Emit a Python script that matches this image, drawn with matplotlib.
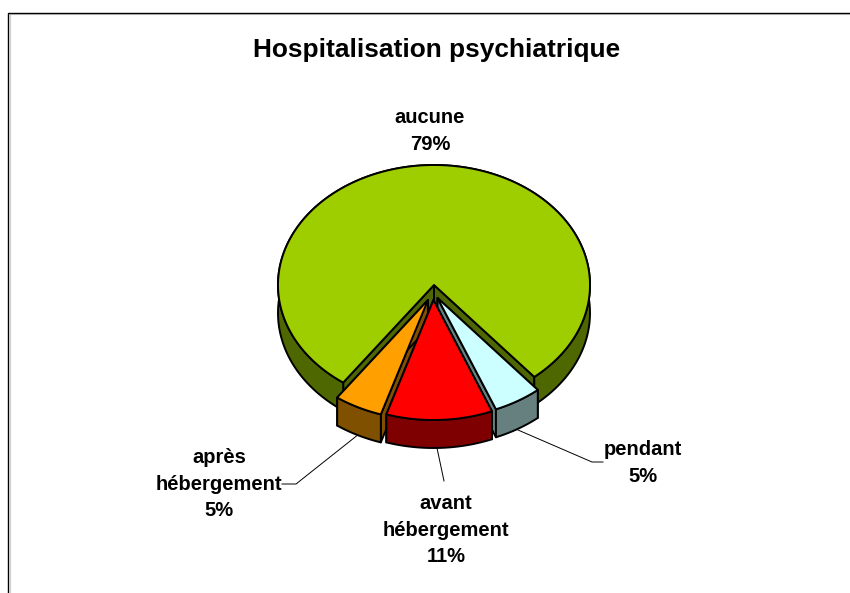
#!/usr/bin/env python3
import numpy as np
import matplotlib

matplotlib.use("Agg")
import matplotlib.pyplot as plt

title = "Hospitalisation psychiatrique"
categories = ["pendant", "avant\nhébergement", "après\nhébergement", "aucune"]
values = [5, 11, 5, 79]

top_colors = ["#CCFFFF", "#FF0000", "#FF9F00", "#9ECE00"]
side_colors = ["#668080", "#7F0000", "#7F5000", "#4F6700"]

# pie geometry in image pixels, angle is measured from straight down towards the right
RX, RY, DEPTH = 156, 120, 28
START = 40.0
centers = [(437.5, 298), (433.5, 300), (428, 300), (434, 285)]
draw_order = [3, 2, 0, 1]
LW = 1.4


def point(center, deg):
    a = np.radians(deg)
    return center[0] + RX * np.sin(a), center[1] + RY * np.cos(a)


fig = plt.figure(figsize=(8.5, 5.93), dpi=100)
ax = fig.add_axes([0, 0, 1, 1])
ax.set_xlim(0, 850)
ax.set_ylim(593, 0)
ax.axis("off")

plt.rcParams["font.family"] = ["Liberation Sans", "DejaVu Sans"]

# chart frame
ax.plot([9.8, 9.8, 850], [593, 13.8, 13.8], color="#D0D0D0", lw=0.8, zorder=0)
ax.plot([8.5, 8.5, 850], [593, 12.5, 12.5], color="black", lw=1.0, zorder=1)

ends = START - np.cumsum(np.array(values) / sum(values) * 360.0)
starts = np.concatenate([[START], ends[:-1]])

z = 2
for i in draw_order:
    cx, cy = centers[i]
    angles = np.linspace(starts[i], ends[i], max(int(values[i] * 4), 12))
    xs, ys = point((cx, cy), angles)
    edge = dict(edgecolor="black", linewidth=LW, joinstyle="round")

    # cut faces
    for deg in (starts[i], ends[i]):
        x1, y1 = point((cx, cy), deg)
        ax.fill([cx, x1, x1, cx], [cy, y1, y1 + DEPTH, cy + DEPTH],
                facecolor=side_colors[i], zorder=z, **edge)
    # outer rim
    ax.fill(np.concatenate([xs, xs[::-1]]), np.concatenate([ys, ys[::-1] + DEPTH]),
            facecolor=side_colors[i], zorder=z + 1, **edge)
    # top face
    ax.fill(np.concatenate([[cx], xs]), np.concatenate([[cy], ys]),
            facecolor=top_colors[i], zorder=z + 2, **edge)
    z += 3

# leader lines
ax.plot([518, 592, 603], [430, 462, 462], color="black", lw=0.7, zorder=1)
ax.plot([437, 444], [448, 481], color="black", lw=0.7, zorder=1)
ax.plot([359, 296, 282], [434, 484, 484], color="black", lw=0.7, zorder=1)

ax.text(437, 50, title, fontsize=18.9, fontweight="bold", ha="center", va="center")

label_pos = [(643, 463), (446, 530), (219, 484), (430, 131)]
for name, val, (lx, ly) in zip(categories, values, label_pos):
    ax.text(lx, ly, f"{name}\n{val}%", fontsize=14.5, fontweight="bold",
            ha="center", va="center", linespacing=1.47)

fig.savefig("out.png", dpi=100)
